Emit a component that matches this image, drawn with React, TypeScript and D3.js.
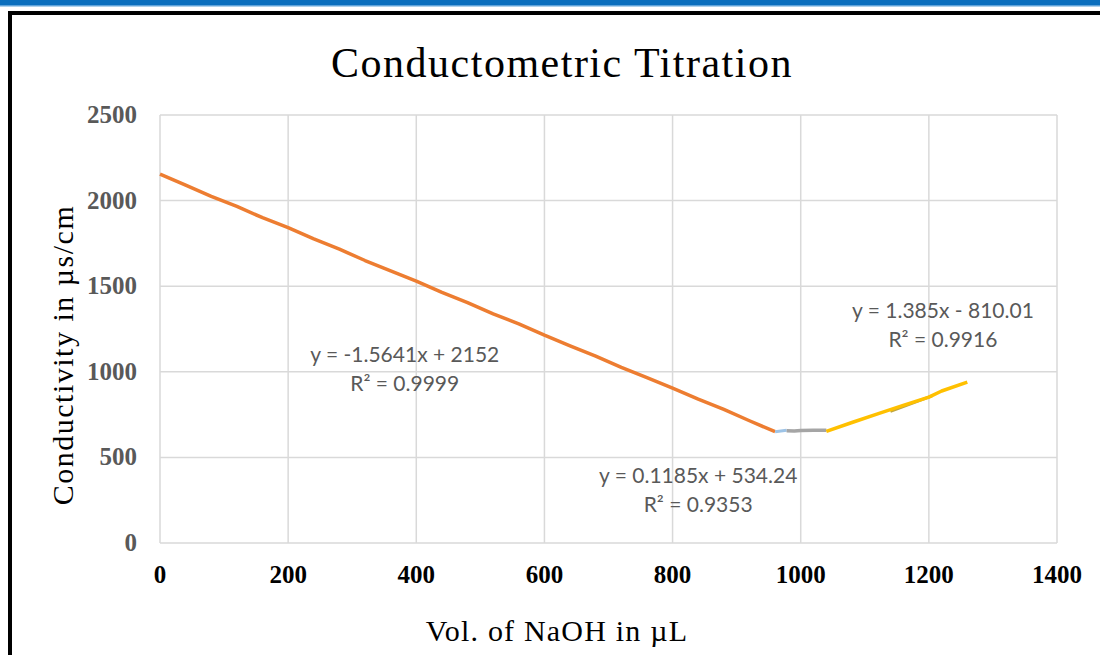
import React from "react";
import * as d3 from "d3";

// Titration readings: volume of NaOH (µL) vs conductivity (µs/cm)
const acidVolumes = [0, 40, 80, 120, 160, 200, 240, 280, 320, 360, 400, 440, 480, 520, 560, 600, 640, 680, 720, 760, 800, 840, 880, 920, 960];
const acidConductivity = [2155, 2090, 2025, 1966, 1900, 1842, 1776, 1716, 1650, 1590, 1530, 1464, 1404, 1338, 1280, 1214, 1152, 1092, 1026, 966, 904, 840, 780, 714, 650];

const bridgeVolumes = [960, 978];
const bridgeConductivity = [650, 659];

const plateauVolumes = [978, 990, 1000, 1020, 1040];
const plateauConductivity = [655, 654, 657, 658, 658];

const baseVolumes = [1040, 1080, 1120, 1160, 1200, 1220, 1260];
const baseConductivity = [652, 704, 754, 804, 852, 888, 940];

const xTicks = [0, 200, 400, 600, 800, 1000, 1200, 1400];
const yTicks = [0, 500, 1000, 1500, 2000, 2500];

const equationLabels = [
  { line1: "y = -1.5641x + 2152", line2: "R² = 0.9999", x: 382, y: 1057 },
  { line1: "y = 0.1185x + 534.24", line2: "R² = 0.9353", x: 840, y: 352 },
  { line1: "y = 1.385x - 810.01", line2: "R² = 0.9916", x: 1222, y: 1312 },
];

const W = 1100;
const H = 655;
const plot = { left: 160, right: 1057, top: 115, bottom: 543 };

export default function App() {
  const x = d3.scaleLinear().domain([0, 1400]).range([plot.left, plot.right]);
  const y = d3.scaleLinear().domain([0, 2500]).range([plot.bottom, plot.top]);

  const line = d3
    .line<[number, number]>()
    .x((d) => x(d[0]))
    .y((d) => y(d[1]));

  const zip = (xs: number[], ys: number[]) => xs.map((v, i) => [v, ys[i]] as [number, number]);

  // Linear fit segment drawn under the data line
  const fit = (m: number, b: number, x0: number, x1: number) => line([[x0, m * x0 + b], [x1, m * x1 + b]]) || "";

  const labelFont = "Lato, 'Open Sans', sans-serif";
  const serif = "'Liberation Serif', 'Times New Roman', serif";

  return (
    <svg
      width={W}
      height={H}
      style={{ position: "absolute", left: 0, top: 0, background: "#fff" }}
    >
      {/* page chrome */}
      <rect x={0} y={0} width={W} height={5} fill="#0A6EBD" />
      <rect x={0} y={5} width={W} height={1.5} fill="#5FA3DA" />
      <rect x={10} y={13} width={W + 20} height={H + 20} fill="#fff" stroke="#000" strokeWidth={4} />

      {/* title */}
      <text x={562} y={77} textAnchor="middle" fontFamily={serif} fontSize={42} fill="#000" letterSpacing={1.5}>
        Conductometric  Titration
      </text>

      {/* grid */}
      <g stroke="#D9D9D9" strokeWidth={1.5}>
        {xTicks.map((t) => (
          <line key={"gx" + t} x1={x(t)} x2={x(t)} y1={plot.top} y2={plot.bottom} />
        ))}
        {yTicks.map((t) => (
          <line key={"gy" + t} x1={plot.left} x2={plot.right} y1={y(t)} y2={y(t)} />
        ))}
      </g>

      {/* y tick labels */}
      {yTicks.map((t) => (
        <text
          key={"ty" + t}
          x={137}
          y={y(t) + 8}
          textAnchor="end"
          fontFamily={serif}
          fontWeight="bold"
          fontSize={25}
          fill="#595959"
        >
          {t}
        </text>
      ))}

      {/* x tick labels */}
      {xTicks.map((t) => (
        <text
          key={"tx" + t}
          x={x(t)}
          y={583}
          textAnchor="middle"
          fontFamily={serif}
          fontWeight="bold"
          fontSize={25}
          fill="#000"
        >
          {t}
        </text>
      ))}

      {/* axis titles */}
      <text x={557} y={641} textAnchor="middle" fontFamily={serif} fontSize={30} fill="#000" letterSpacing={1.2}>
        Vol. of NaOH in µL
      </text>
      <text
        transform={`translate(73, 355) rotate(-90)`}
        textAnchor="middle"
        fontFamily={serif}
        fontSize={30}
        fill="#000"
        letterSpacing={1.5}
      >
        Conductivity in µs/cm
      </text>

      {/* fit */}
      <path d={fit(1.385, -810.01, 1140, 1205)} fill="none" stroke="#BFA640" strokeWidth={3} />

      {/* data */}
      <path d={line(zip(acidVolumes, acidConductivity)) || ""} fill="none" stroke="#ED7D31" strokeWidth={3.5} strokeLinejoin="round" />
      <path d={line(zip(bridgeVolumes, bridgeConductivity)) || ""} fill="none" stroke="#9DC3E6" strokeWidth={3} />
      <path d={line(zip(plateauVolumes, plateauConductivity)) || ""} fill="none" stroke="#A5A5A5" strokeWidth={3.5} strokeLinejoin="round" />
      <path d={line(zip(baseVolumes, baseConductivity)) || ""} fill="none" stroke="#FFC000" strokeWidth={3.5} strokeLinejoin="round" />

      {/* equation labels */}
      {equationLabels.map((l) => (
        <g key={l.line1} fontFamily={labelFont} fontSize={21} fill="#595959" textAnchor="middle">
          <text x={x(l.x)} y={y(l.y)}>{l.line1}</text>
          <text x={x(l.x)} y={y(l.y) + 29}>{l.line2}</text>
        </g>
      ))}
    </svg>
  );
}
